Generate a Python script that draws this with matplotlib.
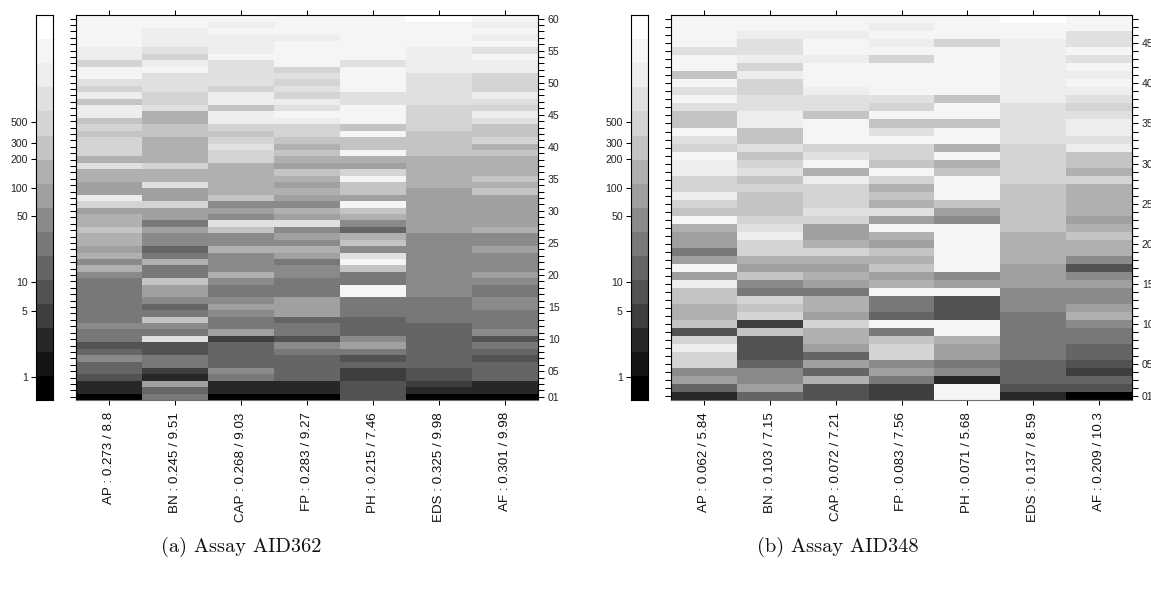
import numpy as np
import matplotlib
matplotlib.use('Agg')
import matplotlib.pyplot as plt
from matplotlib.colors import ListedColormap

plt.rcParams['font.family'] = ['Liberation Sans', 'DejaVu Sans']

# grey steps of the colour key, black to white
greys = ['#000000', '#141414', '#272727', '#3e3e3e', '#525252', '#656565', '#787878', '#8a8a8a',
         '#a0a0a0', '#b0b0b0', '#c4c4c4', '#d4d4d4', '#e0e0e0', '#ededed', '#f5f5f5', '#ffffff']

key_ticks = [1, 5, 10, 50, 100, 200, 300, 500]
key_range = (0.567, 6730)

# every column is listed from the top row down, values are indexes into greys
labels_a = ['AP : 0.273 / 8.8', 'BN : 0.245 / 9.51', 'CAP : 0.268 / 9.03', 'FP : 0.283 / 9.27',
            'PH : 0.215 / 7.46', 'EDS : 0.325 / 9.98', 'AF : 0.301 / 9.98']
ap_a = ([14]*5 + [13]*2 + [11] + [14]*2 + [12, 11, 13, 10] + [13]*2 + [10, 11, 10] + [11]*3 + [9, 12]
        + [9]*2 + [8]*2 + [13, 11, 8] + [9]*2 + [10] + [9]*2 + [8, 9, 7, 9, 7] + [6]*7 + [7] + [6]*2
        + [4, 5, 7] + [5]*2 + [4] + [2]*2 + [0])
bn_a = ([14]*2 + [13]*3 + [12, 11, 13, 14] + [12]*3 + [11]*2 + [12] + [9]*2 + [10]*2 + [9]*4 + [11]
        + [9]*2 + [12] + [8]*2 + [11] + [8]*2 + [6, 8] + [7]*2 + [5, 6, 9] + [6]*2 + [10] + [8]*2
        + [7, 5, 6, 10, 7, 6, 12] + [4]*2 + [6]*2 + [3, 2, 8, 5, 6])
cap_a = ([14, 13, 14] + [13]*3 + [14] + [12]*4 + [11] + [13]*2 + [10] + [13]*2 + [11, 10, 11, 12, 11, 11]
         + [9]*5 + [10, 7, 8, 7, 12, 10] + [7]*2 + [9] + [7]*3 + [9, 7] + [6]*2 + [7, 8, 7] + [6]*2
         + [8, 3] + [5]*4 + [7, 6] + [2]*2 + [0])
fp_a = ([14]*3 + [13] + [14]*4 + [11, 12, 11, 12, 11, 13, 12, 14, 13] + [11]*2 + [10, 9, 10, 9, 8, 10, 9, 8, 9, 8, 7]
        + [9, 8, 12, 7, 8, 7, 9, 8, 6] + [7]*2 + [6]*3 + [8]*3 + [5] + [6]*2 + [4, 7, 6] + [5]*4 + [2]*2 + [0])
ph_a = ([14]*7 + [12] + [14]*4 + [12]*2 + [14]*3 + [10, 14] + [10]*2 + [14, 9, 8, 11, 14] + [10]*2 + [8, 14]
        + [10, 9, 7, 5, 9, 10, 7, 12, 14, 10] + [6]*2 + [14]*2 + [6]*3 + [5]*3 + [7, 8, 6, 4, 5] + [3]*2 + [4]*3)
eds_a = ([15] + [14]*4 + [13]*4 + [12]*5 + [11]*4 + [10]*4 + [9]*5 + [8]*7 + [7]*10 + [6]*4 + [5]*7
         + [4]*2 + [3, 2, 0])
af_a = ([14, 13, 14, 13, 14, 12, 14] + [13]*2 + [11]*3 + [13, 12, 11, 13, 12] + [10]*2 + [11, 9, 10] + [9]*3
        + [10, 9, 10] + [8]*5 + [9] + [7]*2 + [8] + [7]*3 + [8, 7] + [6]*2 + [7]*2 + [6]*3 + [7, 4, 6, 5, 4]
        + [5]*3 + [2]*2 + [0])

labels_b = ['AP : 0.062 / 5.84', 'BN : 0.103 / 7.15', 'CAP : 0.072 / 7.21', 'FP : 0.083 / 7.56',
            'PH : 0.071 / 5.68', 'EDS : 0.137 / 8.59', 'AF : 0.209 / 10.3']
ap_b = ([14]*4 + [12] + [14]*2 + [10, 14, 12, 14, 12] + [10]*2 + [14, 12, 11, 14] + [13]*2 + [11]*2 + [13, 11]
        + [10, 14, 9] + [8]*2 + [6, 8, 14, 8, 13] + [10]*2 + [9]*2 + [10, 4, 11, 13] + [11]*2 + [7, 8, 5, 2])
bn_b = ([14]*2 + [13] + [12]*2 + [13, 11, 13] + [11]*2 + [12]*2 + [13]*2 + [10]*2 + [12, 10, 11, 12, 10, 11]
        + [10]*3 + [11, 12, 13] + [11]*2 + [9, 8, 10, 7, 6, 11, 10, 11, 3, 10] + [4]*3 + [5] + [7]*2 + [8, 5])
cap_b = ([14]*2 + [13] + [14]*2 + [13] + [14]*3 + [13] + [12]*2 + [10] + [14]*3 + [11, 12, 14, 9, 13]
         + [11]*3 + [12, 11] + [8]*2 + [9, 11, 9, 8, 9, 8, 6] + [9]*2 + [8, 11] + [9]*2 + [8, 5, 8, 5, 9] + [4]*2)
fp_b = ([14, 13, 14, 13, 14, 11] + [14]*4 + [12, 11, 14, 10, 12, 14] + [11]*2 + [10, 14, 11, 9, 10, 9, 12, 8, 14, 9, 8, 10, 9, 10, 8, 9, 14]
        + [6]*2 + [5, 14, 6, 10] + [11]*2 + [7, 8, 6] + [3]*2)
ph_b = ([14]*3 + [11] + [14]*6 + [10] + [14]*2 + [10] + [14]*2 + [9, 14, 9, 10] + [14]*3 + [10, 8, 7]
        + [14]*6 + [7, 8, 14] + [4]*3 + [14]*2 + [9] + [8]*2 + [6, 7, 2] + [14]*2)
eds_b = ([15] + [14]*2 + [13]*8 + [12]*5 + [11]*5 + [10]*6 + [9]*4 + [8]*3 + [7]*3 + [6]*6 + [5]*3 + [4, 2])
af_b = ([14]*2 + [12]*2 + [14, 12, 14, 13, 14, 13, 12, 11, 12] + [13]*2 + [12, 13] + [10]*2 + [9, 11] + [9]*4
        + [8, 9, 10] + [9]*2 + [7, 4, 7, 8] + [7]*2 + [8, 9, 7] + [6]*2 + [5]*2 + [4, 3, 5, 4, 0])

columns_a = [ap_a, bn_a, cap_a, fp_a, ph_a, eds_a, af_a]
columns_b = [ap_b, bn_b, cap_b, fp_b, ph_b, eds_b, af_b]

W, H = 1151, 590
fig = plt.figure(figsize=(W/100, H/100), dpi=100)
cmap = ListedColormap(greys)


def add_axes(x0, x1, y0=15.3, y1=400):
    return fig.add_axes([x0/W, 1 - y1/H, (x1 - x0)/W, (y1 - y0)/H])


def draw_key(ax):
    edges = np.geomspace(key_range[0], key_range[1], len(greys) + 1)
    ax.pcolormesh([0, 1], edges, np.arange(len(greys)).reshape(-1, 1),
                  cmap=cmap, vmin=-0.5, vmax=len(greys) - 0.5)
    ax.set_yscale('log')
    ax.set_ylim(*key_range)
    ax.set_xticks([])
    ax.set_yticks(key_ticks)
    ax.set_yticklabels([str(t) for t in key_ticks])
    ax.minorticks_off()
    ax.tick_params(axis='y', length=3.4, width=0.75, pad=2.5, labelsize=7.6, labelcolor='#222222')
    for s in ax.spines.values():
        s.set_linewidth(0.8)


def draw_heat(ax, columns, labels, row_step_labels):
    grid = np.array(columns).T[::-1]
    n_rows = grid.shape[0]
    ax.pcolormesh(np.arange(8) + 0.5, np.arange(n_rows + 1) + 0.5, grid,
                  cmap=cmap, vmin=-0.5, vmax=len(greys) - 0.5)
    ax.set_xlim(0.5, 7.5)
    ax.set_ylim(0.5, n_rows + 0.5)
    ax.set_xticks(range(1, 8))
    ax.set_xticklabels(labels, rotation=90, va='top', ha='center', fontsize=9.6, color='#111111')
    ax.tick_params(axis='x', top=True, length=3.8, width=0.75, pad=5)
    rows = np.arange(1, n_rows + 1)
    ax.set_yticks(rows)
    ax.set_yticklabels(['%02d' % r if r in row_step_labels else '' for r in rows])
    ax.tick_params(axis='y', left=True, right=True, labelleft=False, labelright=True,
                   length=4.6, width=0.75, pad=2.5, labelsize=7.6, labelcolor='#222222')
    for s in ax.spines.values():
        s.set_linewidth(0.8)
    ax.spines['bottom'].set_color('#707070')


draw_key(add_axes(36, 53))
draw_heat(add_axes(76, 538), columns_a, labels_a, [1] + list(range(5, 61, 5)))
draw_key(add_axes(631, 648))
draw_heat(add_axes(671, 1132), columns_b, labels_b, [1] + list(range(5, 49, 5)))

fig.text(241/W, 1 - 547/H, '(a) Assay AID362', family='cmr10', fontsize=14.7, ha='center', va='center', color='#111111')
fig.text(838/W, 1 - 547/H, '(b) Assay AID348', family='cmr10', fontsize=14.7, ha='center', va='center', color='#111111')

fig.savefig('out.png', dpi=100)
